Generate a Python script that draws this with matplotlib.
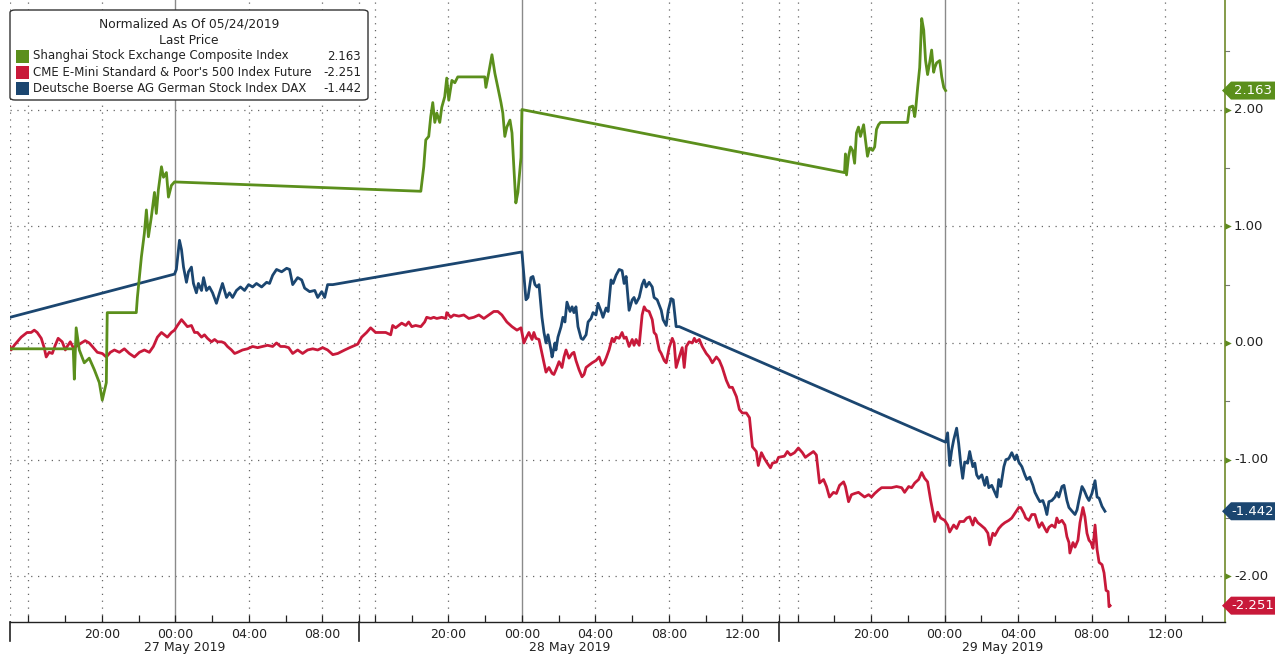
import numpy as np
import matplotlib.pyplot as plt
from matplotlib.patches import Polygon, FancyBboxPatch, Rectangle
from matplotlib.transforms import blended_transform_factory

# chart time in hours from 27 May 2019 00:00, values normalized (% change since 05/24/2019)
sessions = [(-9.0, 10.0), (15.15, 38.0), (39.0, 63.25)]
day_labels = ['27 May 2019', '28 May 2019', '29 May 2019']
label_hours = [0, 4, 8, 12, 20]

shanghai_t = [-9.0, -5.56, -5.50, -5.40, -5.23, -4.96, -4.69, -4.41, -4.14, -3.98, -3.76, -3.71, -2.13, -2.07,
              -1.85, -1.69, -1.58, -1.47, -1.31, -1.14, -1.04, -0.93, -0.76, -0.65, -0.49, -0.38, -0.22, -0.05,
              18.50, 18.66, 18.77, 18.93, 19.04, 19.15, 19.26, 19.37, 19.53, 19.64, 19.80, 19.91, 20.02, 20.19,
              20.35, 20.51, 21.98, 22.04, 22.20, 22.37, 22.53, 22.69, 22.86, 22.96, 23.07, 23.18, 23.35, 23.46,
              23.56, 23.67, 23.78, 23.95, 24.00,
              42.55, 42.60, 42.66, 42.77, 42.88, 42.99, 43.10, 43.20, 43.31, 43.42, 43.59, 43.69, 43.80, 43.91,
              44.08, 44.19, 44.29, 44.40, 44.51, 45.98, 46.09, 46.26, 46.37, 46.42, 46.53, 46.64, 46.75, 46.86,
              46.96, 47.07, 47.18, 47.29, 47.40, 47.46, 47.56, 47.73, 47.84, 47.95, 48.05]
shanghai_v = [-0.05, -0.05, -0.31, 0.13, -0.06, -0.17, -0.13, -0.23, -0.34, -0.49, -0.34, 0.26, 0.26, 0.39,
              0.74, 0.94, 1.14, 0.91, 1.08, 1.29, 1.11, 1.31, 1.51, 1.42, 1.46, 1.25, 1.35, 1.38,
              1.30, 1.51, 1.74, 1.77, 1.94, 2.06, 1.89, 1.97, 1.89, 2.02, 2.11, 2.27, 2.08, 2.25,
              2.23, 2.28, 2.28, 2.19, 2.32, 2.47, 2.31, 2.19, 2.06, 1.97, 1.77, 1.85, 1.91, 1.80,
              1.51, 1.20, 1.29, 1.59, 2.00,
              1.46, 1.62, 1.44, 1.60, 1.68, 1.65, 1.54, 1.80, 1.85, 1.77, 1.87, 1.74, 1.60, 1.67,
              1.65, 1.68, 1.83, 1.87, 1.89, 1.89, 2.02, 2.03, 1.94, 2.00, 2.19, 2.36, 2.78, 2.68,
              2.42, 2.30, 2.40, 2.51, 2.32, 2.36, 2.40, 2.42, 2.28, 2.19, 2.163]

spx_t = [-9.00, -8.94, -8.77, -8.61, -8.39, -8.23, -8.07, -7.85, -7.68, -7.52,
         -7.30, -7.14, -7.03, -6.87, -6.70, -6.54, -6.38, -6.16, -5.99, -5.89,
         -5.72, -5.56, -5.40, -5.12, -4.91, -4.69, -4.52, -4.25, -3.98, -3.76,
         -3.54, -3.32, -3.05, -2.78, -2.51, -2.23, -1.96, -1.69, -1.42, -1.20,
         -0.98, -0.76, -0.60, -0.44, -0.22, -0.05, 0.11, 0.33, 0.49, 0.65,
         0.87, 1.04, 1.20, 1.42, 1.58, 1.74, 1.96, 2.13, 2.29, 2.51,
         2.67, 2.83, 3.05, 3.22, 3.38, 3.65, 3.92, 4.20, 4.47, 4.74,
         5.01, 5.29, 5.50, 5.72, 5.94, 6.16, 6.38, 6.65, 6.92, 7.19,
         7.47, 7.74, 8.01, 8.28, 8.56, 8.83, 9.21, 9.48, 9.92,
         15.28, 15.55, 15.77, 16.04, 16.32, 16.59, 16.86, 16.97, 17.13, 17.30,
         17.46, 17.68, 17.84, 18.01, 18.22, 18.50, 18.71, 18.82, 19.04, 19.20,
         19.37, 19.64, 19.86, 19.91, 20.13, 20.29, 20.57, 20.84, 21.11, 21.38,
         21.66, 21.93, 22.20, 22.47, 22.69, 22.91, 23.18, 23.46, 23.73, 23.95,
         24.11, 24.22, 24.38, 24.55, 24.65, 24.76, 24.93, 25.09, 25.20, 25.31,
         25.47, 25.64, 25.74, 25.85, 26.02, 26.18, 26.29, 26.40, 26.56, 26.73,
         26.83, 26.94, 27.11, 27.27, 27.38, 27.49, 27.65, 27.82, 27.92, 28.03,
         28.20, 28.36, 28.47, 28.58, 28.74, 28.91, 29.01, 29.12, 29.29, 29.45,
         29.56, 29.67, 29.83, 30.00, 30.10, 30.21, 30.38, 30.54, 30.65, 30.76,
         30.92, 31.09, 31.19, 31.30, 31.47, 31.58, 31.74, 31.85, 32.01, 32.18,
         32.28, 32.39, 32.56, 32.72, 32.83, 32.94, 33.10, 33.27, 33.38, 33.48,
         33.65, 33.81, 34.03, 34.19, 34.36, 34.58, 34.74, 34.90, 35.12, 35.29,
         35.45, 35.67, 35.83, 35.99, 36.21, 36.38, 36.54, 36.75, 36.86, 37.03,
         37.19, 37.35, 37.52, 37.63, 37.85, 37.96,
         39.28, 39.44, 39.61, 39.83, 40.04, 40.26, 40.42, 40.59, 40.86, 41.02,
         41.19, 41.41, 41.57, 41.73, 41.95, 42.11, 42.28, 42.50, 42.60, 42.77,
         42.93, 43.10, 43.31, 43.48, 43.64, 43.86, 44.02, 44.19, 44.40, 44.57,
         44.84, 45.11, 45.38, 45.66, 45.82, 46.04, 46.20, 46.37, 46.58, 46.75,
         46.91, 47.07, 47.24, 47.46, 47.62, 47.78, 48.00, 48.16, 48.27, 48.49,
         48.65, 48.82, 49.04, 49.20, 49.36, 49.53, 49.64, 49.80, 49.96, 50.18,
         50.35, 50.45, 50.62, 50.73, 50.94, 51.11, 51.27, 51.49, 51.65, 51.82,
         52.03, 52.14, 52.31, 52.41, 52.58, 52.74, 52.91, 53.02, 53.13, 53.29,
         53.45, 53.56, 53.67, 53.83, 54.00, 54.10, 54.21, 54.38, 54.54, 54.65,
         54.76, 54.81, 54.98, 55.09, 55.25, 55.36, 55.52, 55.63, 55.74, 55.85,
         55.96, 56.07, 56.18, 56.29, 56.40, 56.56, 56.67, 56.78, 56.89, 56.94,
         57.00]
spx_v = [-0.03, -0.06, -0.02, 0.01, 0.05, 0.07, 0.09, 0.09, 0.11, 0.09,
         0.04, -0.04, -0.12, -0.08, -0.09, -0.02, 0.04, 0.01, -0.06, -0.03,
         0.01, -0.04, -0.03, 0.00, 0.02, 0.00, -0.03, -0.08, -0.09, -0.12,
         -0.08, -0.06, -0.08, -0.05, -0.09, -0.12, -0.08, -0.06, -0.08, -0.03,
         0.05, 0.09, 0.07, 0.05, 0.09, 0.11, 0.15, 0.20, 0.17, 0.14,
         0.15, 0.09, 0.09, 0.05, 0.07, 0.04, 0.01, 0.03, 0.01, 0.01,
         0.00, -0.03, -0.06, -0.09, -0.08, -0.06, -0.05, -0.03, -0.04, -0.03,
         -0.02, -0.03, 0.00, -0.03, -0.03, -0.04, -0.09, -0.06, -0.09, -0.06,
         -0.05, -0.06, -0.04, -0.06, -0.10, -0.09, -0.06, -0.04, -0.01,
         0.05, 0.09, 0.13, 0.09, 0.09, 0.09, 0.07, 0.15, 0.13, 0.15,
         0.17, 0.15, 0.18, 0.14, 0.15, 0.14, 0.18, 0.22, 0.21, 0.22,
         0.21, 0.22, 0.21, 0.26, 0.22, 0.24, 0.23, 0.24, 0.21, 0.22,
         0.24, 0.21, 0.24, 0.27, 0.27, 0.24, 0.18, 0.14, 0.11, 0.13,
         0.00, 0.04, 0.09, 0.03, 0.09, 0.04, 0.03, -0.09, -0.17, -0.25,
         -0.21, -0.26, -0.27, -0.23, -0.16, -0.21, -0.12, -0.06, -0.13, -0.09,
         -0.08, -0.15, -0.23, -0.29, -0.27, -0.21, -0.19, -0.17, -0.16, -0.15,
         -0.12, -0.19, -0.17, -0.13, -0.06, 0.04, 0.01, 0.05, 0.04, 0.09,
         0.04, 0.05, -0.03, 0.03, -0.02, 0.03, -0.02, 0.24, 0.31, 0.28,
         0.27, 0.20, 0.09, 0.07, -0.06, -0.09, -0.15, -0.17, -0.04, 0.04,
         0.00, -0.21, -0.12, -0.04, -0.21, -0.03, 0.01, 0.00, 0.04, 0.01,
         0.03, -0.03, -0.09, -0.12, -0.17, -0.12, -0.15, -0.21, -0.32, -0.38,
         -0.38, -0.46, -0.57, -0.60, -0.60, -0.64, -0.89, -0.93, -1.05, -0.94,
         -0.99, -1.03, -1.07, -1.03, -1.02, -0.98,
         -0.97, -0.93, -0.96, -0.94, -0.90, -0.94, -0.98, -0.96, -0.93, -0.96,
         -1.20, -1.17, -1.23, -1.32, -1.28, -1.29, -1.22, -1.19, -1.23, -1.36,
         -1.30, -1.29, -1.28, -1.30, -1.32, -1.30, -1.32, -1.29, -1.26, -1.24,
         -1.24, -1.24, -1.23, -1.24, -1.28, -1.23, -1.24, -1.20, -1.17, -1.11,
         -1.16, -1.19, -1.35, -1.53, -1.45, -1.50, -1.52, -1.56, -1.62, -1.56,
         -1.59, -1.53, -1.53, -1.50, -1.49, -1.56, -1.50, -1.54, -1.56, -1.59,
         -1.63, -1.73, -1.63, -1.65, -1.59, -1.56, -1.54, -1.52, -1.50, -1.46,
         -1.41, -1.41, -1.46, -1.50, -1.52, -1.47, -1.47, -1.53, -1.58, -1.54,
         -1.59, -1.62, -1.58, -1.56, -1.58, -1.50, -1.54, -1.52, -1.56, -1.66,
         -1.71, -1.80, -1.71, -1.75, -1.69, -1.54, -1.41, -1.49, -1.63, -1.69,
         -1.71, -1.76, -1.56, -1.77, -1.88, -1.90, -1.97, -2.12, -2.13, -2.26,
         -2.251]

dax_t = [-9.0, -0.05, 0.05, 0.22, 0.33, 0.44, 0.60, 0.71, 0.87, 0.98,
         1.14, 1.25, 1.42, 1.53, 1.69, 1.85, 2.02, 2.23, 2.40, 2.56,
         2.78, 2.94, 3.11, 3.32, 3.54, 3.76, 3.98, 4.20, 4.41, 4.69,
         4.96, 5.12, 5.29, 5.50, 5.78, 6.05, 6.21, 6.38, 6.65, 6.87,
         7.03, 7.30, 7.58, 7.74, 7.96, 8.12, 8.28, 8.56,
         24.00, 24.22, 24.33, 24.49, 24.60, 24.71, 24.82, 24.93, 25.09, 25.20,
         25.31, 25.42, 25.58, 25.64, 25.80, 25.85, 25.96, 26.13, 26.23, 26.34,
         26.45, 26.62, 26.73, 26.83, 26.94, 27.05, 27.22, 27.32, 27.49, 27.60,
         27.76, 27.87, 28.03, 28.14, 28.31, 28.41, 28.58, 28.69, 28.85, 28.96,
         29.12, 29.29, 29.45, 29.56, 29.67, 29.83, 30.00, 30.10, 30.21, 30.38,
         30.54, 30.65, 30.76, 30.92, 31.09, 31.19, 31.36, 31.58, 31.68, 31.85,
         31.96, 32.12, 32.23, 32.39, 32.56,
         48.05, 48.16, 48.27, 48.38, 48.49, 48.65, 48.76, 48.87, 48.98, 49.09,
         49.25, 49.36, 49.53, 49.64, 49.74, 49.85, 50.02, 50.18, 50.29, 50.40,
         50.56, 50.67, 50.84, 50.94, 51.05, 51.22, 51.33, 51.49, 51.65, 51.82,
         51.92, 52.03, 52.20, 52.36, 52.47, 52.63, 52.80, 52.91, 53.07, 53.18,
         53.34, 53.45, 53.56, 53.67, 53.83, 54.00, 54.11, 54.21, 54.38, 54.49,
         54.65, 54.76, 54.92, 55.09, 55.20, 55.30, 55.47, 55.58, 55.74, 55.85,
         56.01, 56.18, 56.29, 56.40, 56.56, 56.72]
dax_v = [0.22, 0.59, 0.63, 0.88, 0.80, 0.65, 0.52, 0.61, 0.65, 0.51,
         0.43, 0.51, 0.45, 0.56, 0.45, 0.48, 0.43, 0.34, 0.43, 0.51,
         0.39, 0.43, 0.39, 0.45, 0.48, 0.45, 0.50, 0.48, 0.51, 0.48,
         0.52, 0.51, 0.58, 0.63, 0.61, 0.64, 0.63, 0.50, 0.56, 0.54,
         0.47, 0.44, 0.45, 0.39, 0.44, 0.39, 0.50, 0.50,
         0.78, 0.37, 0.39, 0.56, 0.57, 0.50, 0.48, 0.50, 0.22, 0.09,
         0.00, 0.07, -0.06, -0.12, 0.00, -0.06, 0.05, 0.14, 0.22, 0.18,
         0.35, 0.27, 0.31, 0.26, 0.31, 0.14, 0.04, 0.03, 0.07, 0.18,
         0.21, 0.26, 0.24, 0.34, 0.27, 0.22, 0.30, 0.27, 0.54, 0.51,
         0.58, 0.63, 0.62, 0.51, 0.57, 0.28, 0.37, 0.39, 0.34, 0.39,
         0.50, 0.54, 0.48, 0.52, 0.48, 0.39, 0.37, 0.28, 0.20, 0.15,
         0.28, 0.38, 0.37, 0.14, 0.14,
         -0.85, -0.77, -1.05, -0.92, -0.83, -0.73, -0.86, -1.03, -1.16, -1.02,
         -1.03, -0.93, -1.06, -1.03, -1.13, -1.16, -1.13, -1.22, -1.15, -1.24,
         -1.22, -1.26, -1.32, -1.17, -1.23, -1.06, -1.00, -0.99, -0.94, -1.00,
         -0.96, -1.02, -1.06, -1.13, -1.17, -1.15, -1.22, -1.28, -1.33, -1.36,
         -1.35, -1.40, -1.47, -1.36, -1.35, -1.32, -1.28, -1.32, -1.23, -1.22,
         -1.35, -1.41, -1.44, -1.47, -1.43, -1.35, -1.23, -1.26, -1.32, -1.35,
         -1.29, -1.18, -1.32, -1.33, -1.40, -1.442]

names = ['Shanghai Stock Exchange Composite Index',
         "CME E-Mini Standard & Poor's 500 Index Future",
         'Deutsche Boerse AG German Stock Index DAX']
last_values = [2.163, -2.251, -1.442]
colors = ['#5b8f1c', '#c8193a', '#1b4670']
y_ticks = [-2, -1, 0, 1, 2]


def to_pos(t):
    # squeeze out the non-trading gaps between sessions
    t = np.asarray(t, dtype=float)
    pos = np.full_like(t, np.nan)
    off = 0.0
    for s, e in sessions:
        m = (t >= s - 1e-9) & (t <= e + 1e-9)
        pos[m] = off + t[m] - s
        off += e - s
    return pos


total = sum(e - s for s, e in sessions)

W, H = 1280, 660
fig = plt.figure(figsize=(W / 100, H / 100), dpi=100)
ax = fig.add_axes([10 / W, 38 / H, 1215 / W, 622 / H])
ax.set_xlim(0, total)
ax.set_ylim(-2.391, 2.939)

for sp in ['top', 'left']:
    ax.spines[sp].set_visible(False)
ax.spines['right'].set_color('#6f8a2a')
ax.spines['right'].set_linewidth(1.2)
ax.spines['bottom'].set_color('#222222')
ax.spines['bottom'].set_linewidth(1.0)

dot = (0, (1, 4.5))
for v in y_ticks:
    ax.axhline(v, color='#666666', lw=0.9, ls=dot, zorder=1)

# x ticks, grid and session separators
tick_pos, tick_lab = [], []
sep_pos = []
off = 0.0
for s, e in sessions:
    sep_pos.append(off)
    h = np.ceil(s / 2) * 2
    while h <= e:
        p = off + h - s
        hod = int(round(h)) % 24
        tick_pos.append(p)
        tick_lab.append('%02d:00' % hod if hod in label_hours else '')
        if hod == 0:
            ax.axvline(p, color='#8a8a8a', lw=1.0, zorder=1)
        elif hod % 4 == 0:
            ax.axvline(p, color='#666666', lw=0.9, ls=dot, zorder=1)
        h += 2
    off += e - s
for p in sep_pos:
    ax.axvline(p, color='#666666', lw=0.9, ls=dot, zorder=1)

ax.set_xticks(tick_pos)
ax.set_xticklabels(tick_lab, fontsize=9, color='#222222')
ax.tick_params(axis='x', direction='in', length=5, width=0.9, color='#222222', pad=4)
ax.set_yticks([])

bt = blended_transform_factory(ax.transData, ax.transAxes)
for p in sep_pos:
    ax.plot([p, p], [0, -0.03], transform=bt, color='#222222', lw=1.2, clip_on=False)
off = 0.0
for (s, e), lab in zip(sessions, day_labels):
    ax.text(off + (e - s) / 2, -0.041, lab, transform=bt, ha='center', va='center',
            fontsize=9, color='#222222')
    off += e - s

# series
ax.plot(to_pos(dax_t), dax_v, color=colors[2], lw=2.0, zorder=3)
ax.plot(to_pos(spx_t), spx_v, color=colors[1], lw=2.0, zorder=4)
ax.plot(to_pos(shanghai_t), shanghai_v, color=colors[0], lw=2.0, zorder=5)

# right value axis
rt = blended_transform_factory(ax.transAxes, ax.transData)
for v in y_ticks:
    ax.scatter([1.0 + 3 / 1215], [v], marker='>', s=22, color='#5f8a1e', transform=rt,
               clip_on=False, zorder=6, linewidths=0)
    ax.text(1.0 + 9 / 1215, v, '%.2f' % v, transform=rt, ha='left', va='center',
            fontsize=9.5, color='#222222')
for v in [-1.5, -0.5, 0.5, 1.5, 2.5]:
    ax.plot([1.0, 1.0 + 4 / 1215], [v, v], transform=rt, color='#777777', lw=0.8, clip_on=False)

# last value tags
ppu = 622 / (2.939 + 2.391)
hh = 9 / ppu
for val, col in zip(last_values, colors):
    x0, x1, x2 = 1.0 - 3 / 1215, 1.0 + 6 / 1215, 1.0 + 50 / 1215
    tag = Polygon([[x0, val], [x1, val + hh], [x2, val + hh], [x2, val - hh], [x1, val - hh]],
                  closed=True, transform=rt, facecolor=col, edgecolor='none', clip_on=False, zorder=7)
    ax.add_patch(tag)
    ax.text(1.0 + 28 / 1215, val, '%.3f' % val, transform=rt, ha='center', va='center',
            fontsize=9.5, color='white', zorder=8)

# legend box
def fx(x):
    return x / W


def fy(y):
    return 1 - y / H


box = FancyBboxPatch((fx(10), fy(100)), fx(368) - fx(10), fy(10) - fy(100),
                     boxstyle='round,pad=0,rounding_size=0.004', transform=fig.transFigure,
                     facecolor='white', edgecolor='#333333', lw=1.0, zorder=10)
fig.patches.append(box)
fig.text(fx(189), fy(24), 'Normalized As Of 05/24/2019', ha='center', va='center', fontsize=8.8,
         color='#222222', zorder=11)
fig.text(fx(189), fy(41), 'Last Price', ha='center', va='center', fontsize=8.8, color='#222222', zorder=11)
for i, (nm, val, col) in enumerate(zip(names, last_values, colors)):
    yy = 56 + i * 16
    fig.patches.append(Rectangle((fx(16), fy(yy + 6.5)), fx(13), fy(0) - fy(13), transform=fig.transFigure,
                                 facecolor=col, edgecolor='none', zorder=11))
    fig.text(fx(33), fy(yy), nm, ha='left', va='center', fontsize=8.5, color='#222222', zorder=11)
    fig.text(fx(361), fy(yy), '%.3f' % val, ha='right', va='center', fontsize=8.5, color='#222222', zorder=11)

fig.savefig('out.png', dpi=100)
